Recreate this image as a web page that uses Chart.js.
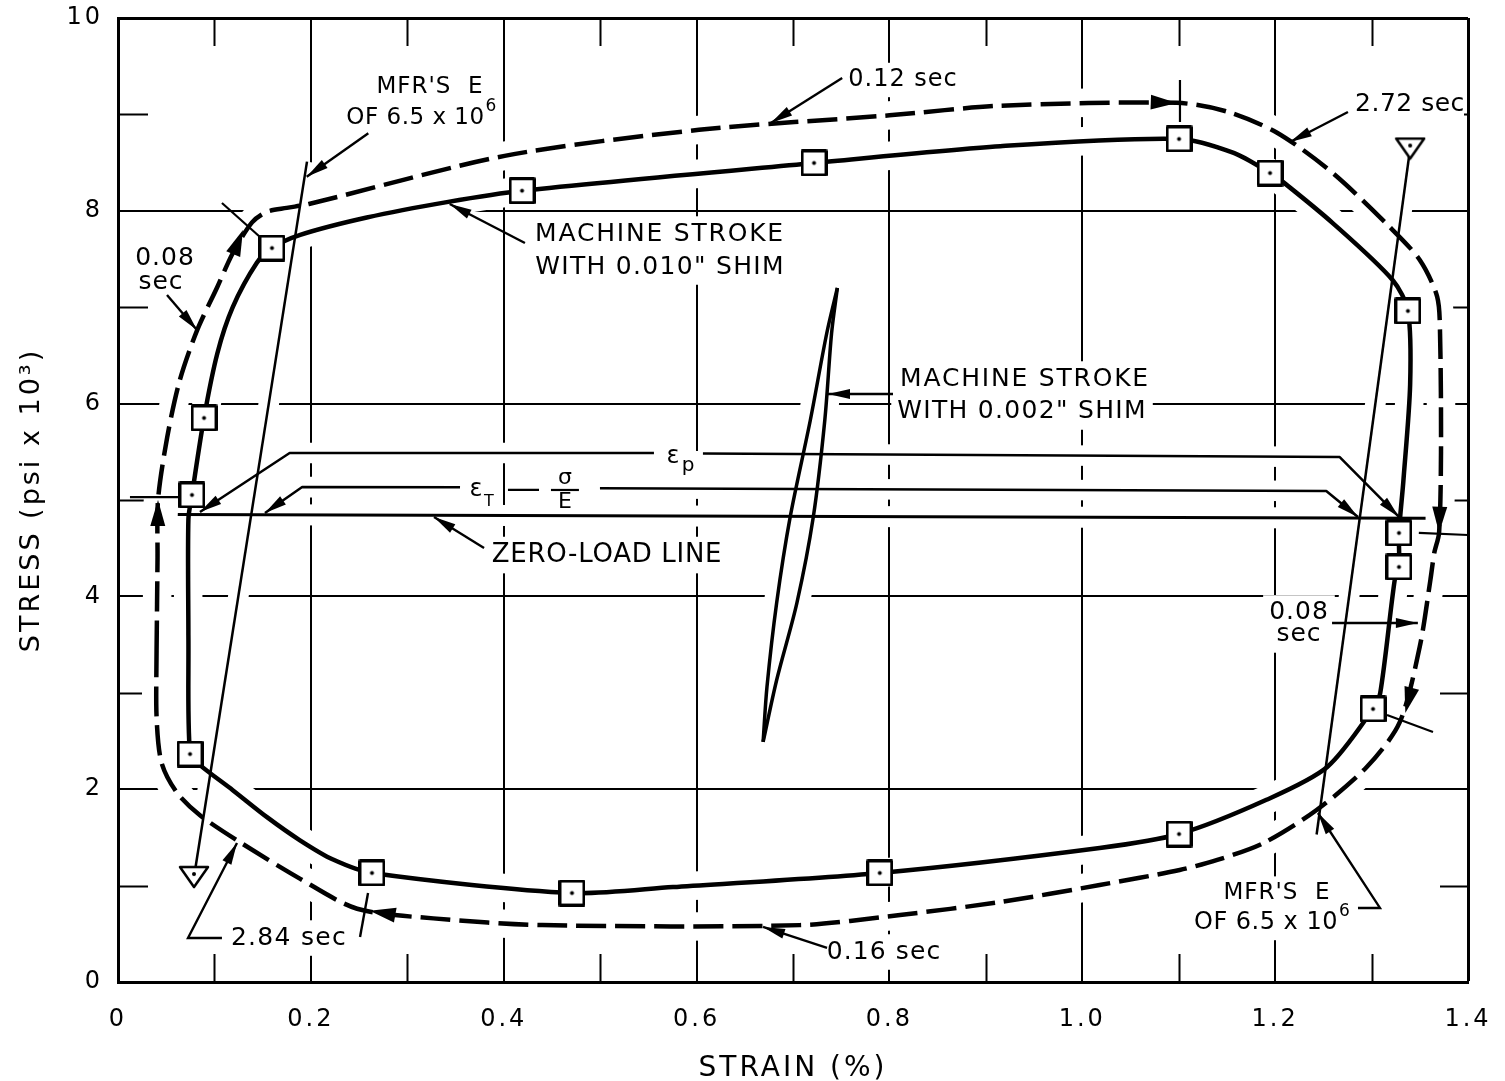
<!DOCTYPE html>
<html>
<head>
<meta charset="utf-8">
<title>Stress vs strain</title>
<script src="https://cdn.jsdelivr.net/npm/chart.js"></script>
<style>
  html, body { margin: 0; padding: 0; background: #fff; }
  #wrap { width: 1505px; height: 1081px; }
</style>
</head>
<body>
<div id="wrap"><canvas id="chart"></canvas></div>
<script>
// axis labels
const xTickValues = [0, 0.2, 0.4, 0.6, 0.8, 1.0, 1.2, 1.4];
const xTickLabels = ['0', '0.2', '0.4', '0.6', '0.8', '1.0', '1.2', '1.4'];
const yTickValues = [0, 2, 4, 6, 8, 10];
const yTickLabels = ['0', '2', '4', '6', '8', '10'];

// measured points (squares) on the 0.010" shim stroke
const squareX = [0.0747, 0.0767, 0.0892, 0.1597, 0.419, 0.7218, 1.1003, 1.1947, 1.3377, 1.3284, 1.3284, 1.3015, 1.1003, 0.790, 0.4708, 0.2634];
const squareY = [2.365, 5.052, 5.851, 7.614, 8.208, 8.496, 8.745, 8.392, 6.961, 4.658, 4.305, 2.832, 1.535, 1.131, 0.923, 1.131];

// solid curve: machine stroke with 0.010" shim (clockwise)
const solidX = [0.073, 0.073, 0.0767, 0.0892, 0.103, 0.119, 0.144, 0.1597, 0.189, 0.258, 0.341, 0.419, 0.7218, 0.915, 1.1003, 1.157, 1.1947, 1.208, 1.26, 1.322, 1.3377, 1.340, 1.333, 1.3284, 1.3284, 1.324, 1.309, 1.3015, 1.254, 1.191, 1.1003, 1.018, 0.790, 0.5755, 0.4708, 0.2634, 0.223, 0.1887, 0.1545, 0.119, 0.085, 0.0747, 0.073];
const solidY = [3.6, 4.8, 5.052, 5.851, 6.52, 7.0, 7.46, 7.614, 7.75, 7.93, 8.09, 8.208, 8.496, 8.67, 8.745, 8.60, 8.392, 8.30, 7.87, 7.28, 6.961, 6.2, 5.2, 4.658, 4.305, 4.17, 3.0, 2.832, 2.23, 1.89, 1.535, 1.39, 1.131, 0.985, 0.923, 1.131, 1.27, 1.47, 1.71, 1.99, 2.25, 2.365, 3.6];

// dashed curve: timed path (clockwise)
const dashX = [0.040, 0.041, 0.0415, 0.051, 0.064, 0.082, 0.103, 0.119, 0.139, 0.1545, 0.175, 0.198, 0.401, 0.6025, 0.80, 0.915, 1.098, 1.150, 1.202, 1.26, 1.319, 1.350, 1.368, 1.371, 1.372, 1.370, 1.365, 1.361, 1.350, 1.329, 1.295, 1.243, 1.188, 1.140, 1.101, 1.018, 0.915, 0.811, 0.707, 0.44, 0.327, 0.248, 0.189, 0.1265, 0.085, 0.0607, 0.045, 0.040, 0.040];
const dashY = [3.44, 4.4, 5.0, 5.65, 6.24, 6.76, 7.21, 7.56, 7.88, 7.99, 8.03, 8.07, 8.57, 8.84, 8.99, 9.09, 9.12, 9.03, 8.81, 8.39, 7.83, 7.49, 7.11, 6.73, 5.5, 4.66, 4.45, 4.17, 3.48, 2.69, 2.23, 1.784, 1.442, 1.266, 1.162, 1.006, 0.83, 0.695, 0.59, 0.59, 0.66, 0.76, 1.07, 1.45, 1.73, 1.97, 2.28, 2.75, 3.44];

// small loop: machine stroke with 0.002" shim
const loopUpX = [0.669, 0.673, 0.683, 0.697, 0.718, 0.735, 0.746];
const loopUpY = [2.49, 3.06, 3.93, 4.82, 5.83, 6.73, 7.20];
const loopDownX = [0.746, 0.740, 0.733, 0.721, 0.704, 0.683, 0.669];
const loopDownY = [7.20, 6.73, 5.83, 4.82, 3.93, 3.13, 2.49];

// manufacturer's modulus lines (E = 6.5 x 10^6) and their triangles
const eLeftX = [0.0788, 0.196];
const eLeftY = [1.089, 8.51];
const eRightX = [1.340, 1.243];
const eRightY = [8.646, 1.53];
const triangleX = [0.0788, 1.340];
const triangleY = [1.089, 8.646];

// zero-load line and strain dimension lines
const zeroX = [0.062, 1.356];
const zeroY = [4.85, 4.81];
const epsPX = [0.085, 0.178, 0.5558, 0.58, 0.6066, 1.267, 1.3284];
const epsPY = [4.876, 5.488, 5.487, null, 5.483, 5.446, 4.824];
const epsTX = [0.1524, 0.191, 0.3547, 0.42, 0.4998, 1.253, 1.2859];
const epsTY = [4.865, 5.135, 5.133, null, 5.122, 5.093, 4.824];

// arrows along the dashed path
const flowArrows = [
  {tip: [0.0415, 5.0], from: [0.041, 4.5]},
  {tip: [0.1296, 7.80], from: [0.113, 7.39]},
  {tip: [1.098, 9.118], from: [1.049, 9.135]},
  {tip: [1.370, 4.66], from: [1.371, 5.05]},
  {tip: [1.335, 2.79], from: [1.345, 3.18]},
  {tip: [0.261, 0.74], from: [0.303, 0.665]}
];
// arrows at the ends of the strain dimension lines
const dimArrows = [
  {tip: [0.085, 4.876], from: [0.178, 5.488]},
  {tip: [1.3284, 4.824], from: [1.267, 5.446]},
  {tip: [0.1524, 4.865], from: [0.191, 5.135]},
  {tip: [1.2859, 4.824], from: [1.253, 5.093]}
];
// leader lines from the notes
const leaders = [
  {pts: [[0.2596, 8.804], [0.1957, 8.354]], arrow: true},
  {pts: [[0.751, 9.378], [0.677, 8.911]], arrow: true},
  {pts: [[1.2755, 9.025], [1.2154, 8.714]], arrow: true},
  {pts: [[0.422, 7.666], [0.344, 8.071]], arrow: true},
  {pts: [[0.0508, 7.127], [0.0819, 6.763]], arrow: true},
  {pts: [[0.8037, 6.10], [0.7363, 6.10]], arrow: true},
  {pts: [[0.3796, 4.502], [0.3277, 4.824]], arrow: true},
  {pts: [[1.259, 3.724], [1.348, 3.724]], arrow: true},
  {pts: [[1.2859, 0.768], [1.3087, 0.768], [1.2444, 1.753]], arrow: true},
  {pts: [[0.7353, 0.353], [0.6689, 0.571]], arrow: true},
  {pts: [[0.1078, 0.456], [0.0726, 0.456], [0.1234, 1.442]], arrow: true},
  {pts: [[0.251, 0.467], [0.2593, 0.923]], arrow: false}
];
// time marks across the dashed path, and the pieces of the sigma/E note
const thinLines = [
  [[0.0124, 5.03], [0.0643, 5.03]],
  [[0.1078, 8.081], [0.1473, 7.728]],
  [[1.1013, 9.357], [1.1013, 8.921]],
  [[1.349, 4.658], [1.40, 4.637]],
  [[1.316, 2.770], [1.3637, 2.593]],
  [[0.4044, 5.104], [0.4366, 5.104]],
  [[0.449, 5.104], [0.478, 5.104]]
];
const notes = [
  {t: "MFR'S  E", at: [0.3236, 9.284], size: 23, ls: 1},
  {t: 'OF 6.5 x 10', sup: '6', at: [0.3085, 8.963], size: 23, ls: 0.5},
  {t: '0.12 sec', at: [0.8141, 9.357], size: 24, ls: 1},
  {t: '2.72 sec', at: [1.3398, 9.098], size: 25, ls: 0.5},
  {t: 'MACHINE STROKE', at: [0.5621, 7.759], size: 25, ls: 1.8},
  {t: 'WITH 0.010" SHIM', at: [0.5621, 7.417], size: 25, ls: 1.3},
  {t: '0.08', at: [0.0487, 7.51], size: 25, ls: 1},
  {t: 'sec', at: [0.0446, 7.261], size: 25, ls: 1},
  {t: 'MACHINE STROKE', at: [0.9406, 6.255], size: 25, ls: 1.8},
  {t: 'WITH 0.002" SHIM', at: [0.9375, 5.913], size: 25, ls: 1.3},
  {t: 'ZERO-LOAD LINE', at: [0.5071, 4.429], size: 26, ls: 0.7},
  {t: '0.08', at: [1.2247, 3.828], size: 25, ls: 1},
  {t: 'sec', at: [1.2247, 3.60], size: 25, ls: 1},
  {t: "MFR'S  E", at: [1.2019, 0.923], size: 23, ls: 1},
  {t: 'OF 6.5 x 10', sup: '6', at: [1.1905, 0.612], size: 24, ls: 0.5},
  {t: '0.16 sec', at: [0.7944, 0.311], size: 25, ls: 1.1},
  {t: '2.84 sec', at: [0.1773, 0.456], size: 25, ls: 1.3},
  {t: 'ε', at: [0.3713, 5.104], size: 24},
  {t: 'T', at: [0.3847, 4.979], size: 16},
  {t: 'σ', at: [0.4636, 5.228], size: 22},
  {t: 'E', at: [0.4636, 4.979], size: 22},
  {t: 'ε', at: [0.5755, 5.446], size: 24},
  {t: 'p', at: [0.5911, 5.353], size: 20}
];

const FONT = "'DejaVu Sans', sans-serif";
const pts = (xs, ys) => xs.map((x, i) => ({x, y: ys[i]}));
const near = (a, b) => Math.abs(a - b) < 1e-6;
const isMajorX = v => xTickValues.some(t => near(t, v));
const isMajorY = v => yTickValues.some(t => near(t, v));

// marker images: square with centre dot, downward triangle with dot
const squareImg = (() => {
  const c = document.createElement('canvas');
  c.width = 27; c.height = 27;
  const g = c.getContext('2d');
  g.fillStyle = '#fff'; g.fillRect(1.5, 1.5, 24, 24);
  g.lineJoin = 'round'; g.lineWidth = 3; g.strokeStyle = '#000';
  g.strokeRect(1.5, 1.5, 24, 24);
  g.fillStyle = '#000'; g.beginPath(); g.arc(13.5, 13.5, 2, 0, Math.PI * 2); g.fill();
  return c;
})();
const triangleImg = (() => {
  const c = document.createElement('canvas');
  c.width = 32; c.height = 24;
  const g = c.getContext('2d');
  g.beginPath(); g.moveTo(2, 2); g.lineTo(30, 2); g.lineTo(16, 22); g.closePath();
  g.fillStyle = '#fff'; g.fill();
  g.lineJoin = 'round'; g.lineWidth = 2.5; g.strokeStyle = '#000'; g.stroke();
  g.fillStyle = '#000'; g.beginPath(); g.arc(16, 9, 2, 0, Math.PI * 2); g.fill();
  return c;
})();

function lineSet(data, width, extra) {
  return Object.assign({
    data, showLine: true, borderColor: '#000', borderWidth: width,
    pointRadius: 0, tension: 0, fill: false, borderCapStyle: 'butt',
    borderJoinStyle: 'round', order: 0, halo: 18
  }, extra);
}

const lines = [
  lineSet(pts(solidX, solidY), 4.5, {tension: 0.28, halo: 24}),
  lineSet(pts(dashX, dashY), 4.5, {tension: 0.28, borderDash: [30, 9], halo: 24}),
  lineSet(pts(loopUpX, loopUpY), 3.5, {tension: 0.3, halo: 22}),
  lineSet(pts(loopDownX, loopDownY), 3.5, {tension: 0.3, halo: 22}),
  lineSet(pts(eLeftX, eLeftY), 2.5),
  lineSet(pts(eRightX, eRightY), 2.5),
  lineSet(pts(zeroX, zeroY), 3),
  lineSet(pts(epsPX, epsPY), 2.5),
  lineSet(pts(epsTX, epsTY), 2.5)
];
// white halos under every line break the grid where lines cross it
const halos = lines.map(d => Object.assign({}, d, {
  data: d.data.map(p => ({x: p.x, y: p.y})),
  borderColor: '#fff', borderWidth: d.borderWidth + d.halo, borderDash: [], order: 10
}));

const markers = [
  {data: pts(squareX, squareY), pointStyle: squareImg, pointRadius: 12, showLine: false, order: -1},
  {data: pts(triangleX, triangleY), pointStyle: triangleImg, pointRadius: 12, showLine: false, order: -1}
];

function toPx(chart, p) {
  return [chart.scales.x.getPixelForValue(p[0]), chart.scales.y.getPixelForValue(p[1])];
}
function setFont(ctx, size, ls) {
  ctx.font = size + 'px ' + FONT;
  ctx.letterSpacing = (ls || 0) + 'px';
}
function arrowHead(ctx, tip, from, len, half) {
  const dx = tip[0] - from[0], dy = tip[1] - from[1];
  const d = Math.hypot(dx, dy), ux = dx / d, uy = dy / d;
  const bx = tip[0] - ux * len, by = tip[1] - uy * len;
  ctx.beginPath();
  ctx.moveTo(tip[0], tip[1]);
  ctx.lineTo(bx - uy * half, by + ux * half);
  ctx.lineTo(bx + uy * half, by - ux * half);
  ctx.closePath();
  ctx.fill();
}
function noteWidth(ctx, n) {
  setFont(ctx, n.size, n.ls);
  let w = ctx.measureText(n.t).width;
  if (n.sup) {
    setFont(ctx, Math.round(n.size * 0.72), 0);
    w += ctx.measureText(n.sup).width + 2;
  }
  return w;
}

const drawing = {
  id: 'drawing',
  beforeDraw(chart) {
    chart.ctx.letterSpacing = '3px';
  },
  beforeDatasetsDraw(chart) {
    const {ctx, chartArea: a, scales: {x, y}} = chart;
    ctx.save();
    ctx.strokeStyle = '#000';
    ctx.lineWidth = 2;
    // minor ticks on the four sides
    ctx.beginPath();
    x.ticks.forEach(t => {
      if (isMajorX(t.value)) return;
      const p = Math.round(x.getPixelForValue(t.value)) + 0.5;
      ctx.moveTo(p, a.bottom); ctx.lineTo(p, a.bottom - 28);
      ctx.moveTo(p, a.top); ctx.lineTo(p, a.top + 28);
    });
    y.ticks.forEach(t => {
      if (isMajorY(t.value)) return;
      const p = Math.round(y.getPixelForValue(t.value)) + 0.5;
      ctx.moveTo(a.left, p); ctx.lineTo(a.left + 30, p);
      ctx.moveTo(a.right, p); ctx.lineTo(a.right - 28, p);
    });
    ctx.stroke();
    // white boxes behind the notes break the grid
    ctx.fillStyle = '#fff';
    notes.forEach(n => {
      const w = noteWidth(ctx, n);
      const [cx, cy] = toPx(chart, n.at);
      const x0 = Math.max(a.left + 4, cx - w / 2 - 6);
      const x1 = Math.min(a.right - 4, cx + w / 2 + 6);
      const y0 = Math.max(a.top + 4, cy - n.size * 0.55 - 4);
      const y1 = Math.min(a.bottom - 4, cy + n.size * 0.55 + 4);
      ctx.fillRect(x0, y0, x1 - x0, y1 - y0);
    });
    ctx.restore();
  },
  afterDatasetsDraw(chart) {
    const ctx = chart.ctx;
    ctx.save();
    ctx.strokeStyle = '#000';
    ctx.fillStyle = '#000';
    ctx.lineCap = 'butt';
    ctx.lineJoin = 'miter';
    // time marks and fraction bar
    ctx.lineWidth = 2.2;
    thinLines.forEach(s => {
      const p = toPx(chart, s[0]), q = toPx(chart, s[1]);
      ctx.beginPath(); ctx.moveTo(p[0], p[1]); ctx.lineTo(q[0], q[1]); ctx.stroke();
    });
    // leaders
    ctx.lineWidth = 2.4;
    leaders.forEach(l => {
      const ps = l.pts.map(p => toPx(chart, p));
      ctx.beginPath();
      ps.forEach((p, i) => i ? ctx.lineTo(p[0], p[1]) : ctx.moveTo(p[0], p[1]));
      ctx.stroke();
      if (l.arrow) arrowHead(ctx, ps[ps.length - 1], ps[ps.length - 2], 22, 5);
    });
    dimArrows.forEach(a => arrowHead(ctx, toPx(chart, a.tip), toPx(chart, a.from), 22, 5));
    flowArrows.forEach(a => arrowHead(ctx, toPx(chart, a.tip), toPx(chart, a.from), 26, 7.5));
    // notes
    ctx.textBaseline = 'middle';
    notes.forEach(n => {
      const [cx, cy] = toPx(chart, n.at);
      const w = noteWidth(ctx, n);
      setFont(ctx, n.size, n.ls);
      const mw = ctx.measureText(n.t).width;
      ctx.textAlign = 'left';
      const left = n.sup ? cx - mw / 2 : cx - w / 2;
      ctx.fillText(n.t, left, cy);
      if (n.sup) {
        setFont(ctx, Math.round(n.size * 0.72), 0);
        ctx.fillText(n.sup, left + mw + 1, cy - n.size * 0.48);
      }
    });
    ctx.restore();
  }
};

const tickFont = {family: FONT, size: 24};

new Chart(document.getElementById('chart'), {
  type: 'scatter',
  data: {datasets: [...markers, ...lines, ...halos]},
  options: {
    responsive: true,
    maintainAspectRatio: false,
    animation: false,
    devicePixelRatio: 1,
    events: [],
    layout: {padding: {top: 18, right: 37, bottom: 0, left: 0}},
    plugins: {legend: {display: false}, tooltip: {enabled: false}},
    scales: {
      x: {
        type: 'linear', min: 0, max: 1.4,
        afterFit(s) { s.height = 99; s.paddingLeft = 0; s.paddingRight = 0; },
        ticks: {
          stepSize: 0.1, autoSkip: false, maxRotation: 0, padding: 23,
          color: '#000', font: tickFont,
          callback: v => {
            const i = xTickValues.findIndex(t => near(t, v));
            return i >= 0 ? xTickLabels[i] : '';
          }
        },
        grid: {
          drawTicks: false,
          color: c => isMajorX(c.tick.value) ? '#000' : 'rgba(0,0,0,0)',
          lineWidth: c => (near(c.tick.value, 1.4) ? 3 : 2)
        },
        border: {color: '#000', width: 3},
        title: {
          display: true, text: 'STRAIN (%)', color: '#000',
          font: {family: FONT, size: 28, lineHeight: 0.9}, padding: {top: 0, bottom: 0}
        }
      },
      y: {
        type: 'linear', min: 0, max: 10,
        afterFit(s) { s.width = 118; s.paddingTop = 0; s.paddingBottom = 0; },
        ticks: {
          stepSize: 1, autoSkip: false, padding: 15,
          color: '#000', font: tickFont,
          callback: v => {
            const i = yTickValues.findIndex(t => near(t, v));
            return i >= 0 ? yTickLabels[i] : '';
          }
        },
        grid: {
          drawTicks: false,
          color: c => isMajorY(c.tick.value) ? '#000' : 'rgba(0,0,0,0)',
          lineWidth: c => (near(c.tick.value, 10) ? 3 : 2)
        },
        border: {color: '#000', width: 3},
        title: {
          display: true, text: 'STRESS (psi x 10³)', color: '#000',
          font: {family: FONT, size: 27}, padding: {top: 16, bottom: 0}
        }
      }
    }
  },
  plugins: [drawing]
});
</script>
</body>
</html>
